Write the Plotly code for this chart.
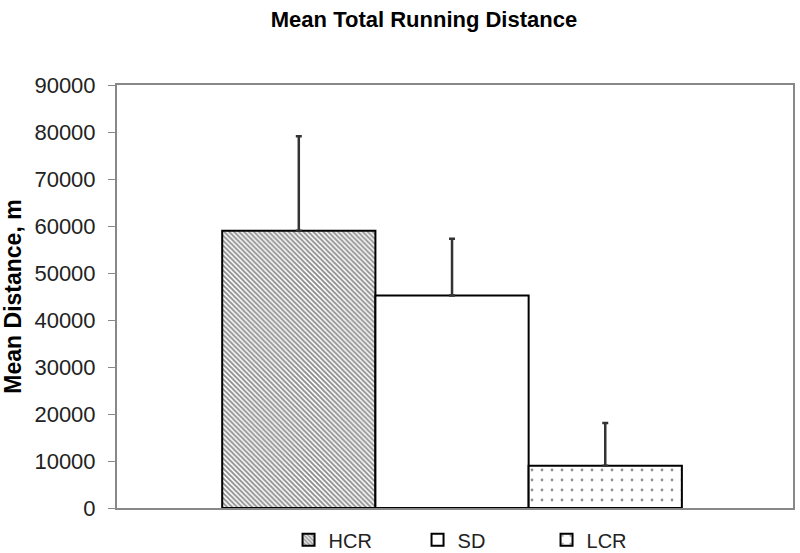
import plotly.graph_objects as go

groups = ["HCR", "SD", "LCR"]
means = [59000, 45200, 9000]
errors = [20100, 12100, 9100]
category = ["Mean Total Running Distance"]

patterns = {"HCR": dict(shape="\\", size=3.5, solidity=0.55, fgcolor="#1a1a1a", bgcolor="white"),
            "SD": dict(shape="", bgcolor="white"),
            "LCR": dict(shape=".", size=10, solidity=0.06, fgcolor="#222222", bgcolor="white")}

fig = go.Figure()
for g, m, e in zip(groups, means, errors):
    fig.add_trace(go.Bar(
        name=g, x=category, y=[m],
        marker=dict(color="white", line=dict(color="black", width=2), pattern=patterns[g]),
        error_y=dict(type="data", array=[e], symmetric=False, arrayminus=[0],
                     color="#333333", thickness=2.5, width=3),
    ))

fig.update_layout(
    width=800, height=553,
    paper_bgcolor="white", plot_bgcolor="white",
    barmode="group", bargap=0.32, bargroupgap=0,
    margin=dict(l=117, r=7, t=85, b=45, autoexpand=False),
    title=dict(text="<b>Mean Total Running Distance</b>", x=0.53, xanchor="center",
               y=0.966, yanchor="middle",
               font=dict(family="Liberation Sans, Arial", size=22, color="black")),
    font=dict(family="Liberation Sans, Arial", color="#222222"),
    showlegend=True,
    legend=dict(orientation="h", x=0.54, xanchor="center", y=-0.075, yanchor="middle",
                font=dict(size=20, color="#222222"), entrywidth=84, entrywidthmode="pixels",
                traceorder="normal", itemwidth=30),
    xaxis=dict(showticklabels=False, showline=True, linecolor="#888888", linewidth=2,
               mirror=True, ticks="", range=[-0.4956, 0.5044]),
    yaxis=dict(range=[0, 90000], dtick=10000, showgrid=False, showline=True,
               linecolor="#888888", linewidth=2, ticks="outside", ticklen=7,
               tickcolor="#888888", tickfont=dict(size=22, color="#222222"),
               ticklabelstandoff=8,
               tickformat="d", mirror=True,
               title=dict(text="<b>Mean Distance, m</b>", font=dict(size=23, color="black"),
                          standoff=6)),
)

fig.write_html("out.html", config={"displayModeBar": False},
               post_script="document.body.style.margin='0px';")
